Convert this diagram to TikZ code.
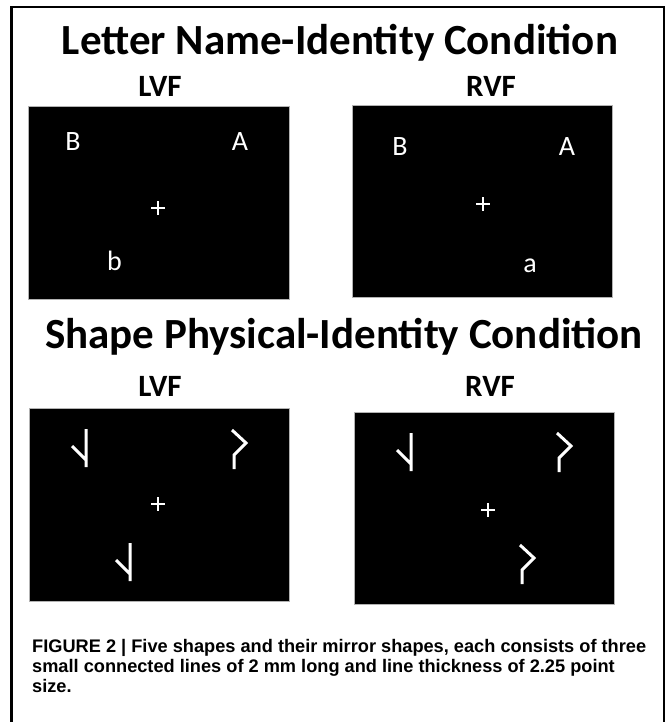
\documentclass[tikz,border=0pt]{standalone}
\usepackage{fontspec}
\setmainfont{Carlito}
\newfontfamily\capfont{Liberation Sans}
\begin{document}
\begin{tikzpicture}[x=1pt,y=-1pt,
  title/.style={font=\fontsize{43}{43}\selectfont\bfseries, anchor=base, inner sep=0},
  field/.style={font=\fontsize{31}{31}\selectfont\bfseries, anchor=base, inner sep=0},
  screen/.style={fill=black, draw=gray!60, line width=0.8pt},
  letter/.style={font=\fontsize{28}{28}\selectfont, text=white, anchor=base, inner sep=0},
  fix/.style={draw=white, line width=2pt},
  stim/.style={draw=white, line width=3pt, line join=miter},
  frame/.style={draw=black, line width=2.5pt}
]
\useasboundingbox (0,0) rectangle (670,722);
% outer frame
\draw[frame] (11.5,740) |- (664,7) -- (664,740);

% titles
\node[title] (t1) at (340,55) {Letter Name-Identity Condition};
\node[field] (l1) at (160,97) {LVF};
\node[field] (r1) at (491,97) {RVF};
\node[title] (t2) at (344,348) {Shape Physical-Identity Condition};
\node[field] (l2) at (160,396) {LVF};
\node[field] (r2) at (490,396) {RVF};

% screens
\draw[screen] (28,106) rectangle (289,299);
\draw[screen] (352,105) rectangle (612,297);
\draw[screen] (29,408) rectangle (289,601);
\draw[screen] (354,412) rectangle (614,604);

% letter screens
\node[letter] (b1B) at (73,151) {B};
\node[letter] (b1A) at (240,151) {A};
\node[letter] (b1b) at (114.5,270) {b};
\draw[fix] (151,208) -- (165,208) (158,201) -- (158,215);

\node[letter] (b2B) at (400,156) {B};
\node[letter] (b2A) at (567,156) {A};
\node[letter] (b2a) at (530,272) {a};
\draw[fix] (476,204) -- (490,204) (483,197) -- (483,211);

% shape screens
\draw[stim] (86,429) -- ++(0,38) (72,446) -- ++(14,14);
\draw[stim] (232,430) -- ++(14,13) -- ++(-12,12) -- ++(0,14);
\draw[stim] (130,543) -- ++(0,38) (116,560) -- ++(14,14);
\draw[fix] (151,504) -- (165,504) (158,497) -- (158,511);

\draw[stim] (411,433) -- ++(0,38) (397,450) -- ++(14,14);
\draw[stim] (557,433) -- ++(14,13) -- ++(-12,12) -- ++(0,14);
\draw[stim] (520,545) -- ++(14,13) -- ++(-12,12) -- ++(0,14);
\draw[fix] (481,510) -- (495,510) (488,503) -- (488,517);

% caption (base anchor = baseline of last line)
\node[anchor=base west, inner sep=0, align=left,
      font=\capfont\fontsize{18.2}{20}\selectfont\bfseries] (cap) at (32,692)
  {FIGURE 2 | Five shapes and their mirror shapes, each consists of three\\
   small connected lines of 2 mm long and line thickness of 2.25 point\\
   size.};
\end{tikzpicture}
\end{document}
